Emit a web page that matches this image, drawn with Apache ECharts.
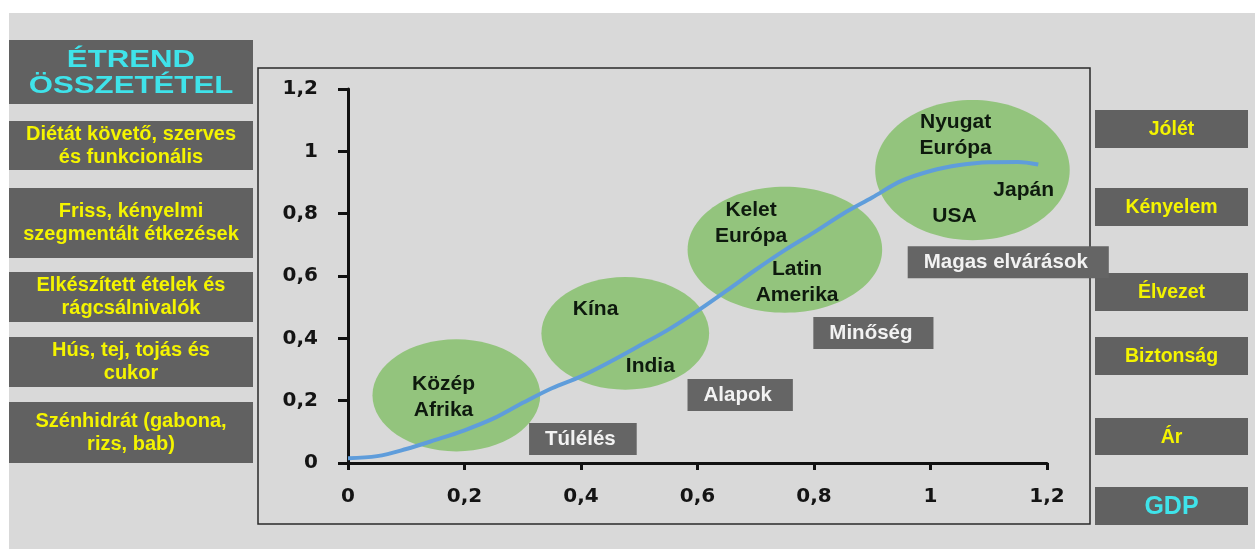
<!DOCTYPE html>
<html>
<head>
<meta charset="utf-8">
<title>Étrend összetétel és GDP</title>
<script src="https://cdn.jsdelivr.net/npm/echarts@6/dist/echarts.min.js"></script>
<style>
  html, body { margin: 0; padding: 0; background: #ffffff; }
  #bg { position: absolute; left: 9px; top: 13px; width: 1246px; height: 536px; background: #d9d9d9; }
  #chart { position: absolute; left: 0; top: 0; width: 1255px; height: 549px; }
</style>
</head>
<body>
<div id="bg"></div>
<div id="chart"></div>
<script>
// GDP (x) against diet development (y) – the S-shaped trend line
const gdp   = [0, 0.05, 0.1, 0.15, 0.2, 0.25, 0.3, 0.35, 0.4, 0.45, 0.5, 0.55, 0.6, 0.65, 0.7, 0.75, 0.8, 0.85, 0.9, 0.95, 1.0, 1.05, 1.1, 1.15, 1.185];
const trend = [0.015, 0.022, 0.045, 0.074, 0.105, 0.143, 0.193, 0.24, 0.278, 0.325, 0.376, 0.428, 0.488, 0.553, 0.62, 0.683, 0.74, 0.8, 0.852, 0.905, 0.937, 0.956, 0.965, 0.966, 0.958];

// Regions (ellipses): centre and half-axes in axis units
const regionX  = [0.186, 0.476, 0.750, 1.072];
const regionY  = [0.217, 0.416, 0.684, 0.940];
const regionRX = [0.144, 0.144, 0.167, 0.167];
const regionRY = [0.180, 0.181, 0.202, 0.225];

// Country / region names and their anchor points in axis units
const countryNames = ['Közép\nAfrika', 'Kína', 'India', 'Kelet\nEurópa', 'Latin\nAmerika', 'Nyugat\nEurópa', 'Japán', 'USA'];
const countryX = [0.164, 0.425, 0.519, 0.692, 0.771, 1.043, 1.160, 1.041];
const countryY = [0.210, 0.492, 0.311, 0.771, 0.579, 1.053, 0.874, 0.792];

// Stage labels (left edge of each tag) in axis units
const stageNames = ['Túlélés', 'Alapok', 'Minőség', 'Magas elvárások'];
const stageX = [0.310, 0.582, 0.798, 0.960];
const stageY = [0.077, 0.218, 0.417, 0.644];

// Side panels
const dietLevels = ['ÉTREND\nÖSSZETÉTEL', 'Diétát követő, szerves\nés funkcionális', 'Friss, kényelmi\nszegmentált étkezések', 'Elkészített ételek és\nrágcsálnivalók', 'Hús, tej, tojás és\ncukor', 'Szénhidrát (gabona,\nrizs, bab)'];
const needLevels = ['Jólét', 'Kényelem', 'Élvezet', 'Biztonság', 'Ár', 'GDP'];

const fmt = v => String(Math.round(v * 10) / 10).replace('.', ',');

const BOX = '#616161';
const YELLOW = '#f4f400';
const CYAN = '#3fe3ea';

// panel geometry: [top, height]
const leftBoxes = [[40, 64], [121, 49], [188, 70], [272, 50], [337, 50], [402, 61]];
const rightBoxes = [[110, 38], [188, 38], [273, 38], [337, 38], [418, 37], [487, 38]];

const graphics = [];
graphics.push({
  type: 'rect', z: 0, silent: true,
  shape: { x: 258, y: 68, width: 832, height: 456 },
  style: { fill: 'none', stroke: '#2a2a2a', lineWidth: 1.5 }
});
leftBoxes.forEach((b, i) => {
  graphics.push({ type: 'rect', silent: true, shape: { x: 9, y: b[0], width: 244, height: b[1] }, style: { fill: BOX } });
  const title = i === 0;
  graphics.push({
    type: 'text', silent: true, z: 2,
    x: 131, y: b[0] + b[1] / 2 + (title ? 1 : 0),
    scaleX: title ? 1.3 : 1,
    style: {
      text: dietLevels[i], x: 0, y: 0,
      align: 'center', verticalAlign: 'middle',
      font: title ? 'bold 24px "Liberation Sans"' : 'bold 20px "Liberation Sans"',
      lineHeight: title ? 26 : 23,
      fill: title ? CYAN : YELLOW
    }
  });
});
rightBoxes.forEach((b, i) => {
  graphics.push({ type: 'rect', silent: true, shape: { x: 1095, y: b[0], width: 153, height: b[1] }, style: { fill: BOX } });
  const last = i === rightBoxes.length - 1;
  graphics.push({
    type: 'text', silent: true, z: 2,
    style: {
      text: needLevels[i], x: 1171.5, y: b[0] + b[1] / 2 + 1,
      align: 'center', verticalAlign: 'middle',
      font: last ? 'bold 25px "Liberation Sans"' : 'bold 19.5px "Liberation Sans"',
      fill: last ? CYAN : YELLOW
    }
  });
});

const axisCommon = {
  type: 'value', min: 0, max: 1.2, interval: 0.2,
  axisLine: { show: true, lineStyle: { color: '#111', width: 3 } },
  axisTick: { show: true, lineStyle: { color: '#111', width: 3 } },
  splitLine: { show: false },
  axisLabel: {
    formatter: fmt,
    color: '#141414',
    fontFamily: 'DejaVu Sans', fontWeight: 'bold', fontSize: 20
  }
};

const chart = echarts.init(document.getElementById('chart'), null, { renderer: 'canvas' });
chart.setOption({
  backgroundColor: 'transparent',
  animation: false,
  graphic: { elements: graphics },
  grid: { left: 348, right: 208, top: 89, bottom: 86, containLabel: false },
  xAxis: Object.assign({}, axisCommon, {
    axisTick: Object.assign({}, axisCommon.axisTick, { length: 7 }),
    axisLabel: Object.assign({}, axisCommon.axisLabel, { margin: 24 })
  }),
  yAxis: Object.assign({}, axisCommon, {
    axisTick: Object.assign({}, axisCommon.axisTick, { length: 10 }),
    axisLabel: Object.assign({}, axisCommon.axisLabel, { margin: 30 })
  }),
  series: [
    {
      type: 'custom', name: 'régiók', z: 1, clip: false,
      data: regionX.map((x, i) => [x, regionY[i], regionRX[i], regionRY[i]]),
      encode: { x: 0, y: 1 },
      renderItem: (params, api) => {
        const c = api.coord([api.value(0), api.value(1)]);
        const s = api.size([api.value(2), api.value(3)]);
        return { type: 'ellipse', shape: { cx: c[0], cy: c[1], rx: s[0], ry: s[1] }, style: { fill: '#93c47d' } };
      }
    },
    {
      type: 'line', name: 'trend', z: 3,
      data: gdp.map((x, i) => [x, trend[i]]),
      smooth: 0.35, showSymbol: false, symbol: 'none',
      lineStyle: { color: '#5f9ddb', width: 4 }
    },
    {
      type: 'scatter', name: 'országok', z: 4,
      symbolSize: 1, itemStyle: { color: 'transparent', opacity: 1 },
      data: countryX.map((x, i) => [x, countryY[i], countryNames[i]]),
      label: {
        show: true, position: 'inside', formatter: p => p.data[2],
        fontFamily: 'Liberation Sans', fontWeight: 'bold', fontSize: 21,
        lineHeight: 26, color: '#0e1a0e', align: 'center', verticalAlign: 'middle'
      }
    },
    {
      type: 'scatter', name: 'szakaszok', z: 5,
      symbolSize: 1, itemStyle: { color: 'transparent', opacity: 1 },
      data: stageX.map((x, i) => [x, stageY[i], stageNames[i]]),
      label: {
        show: true, position: 'right', distance: 0, formatter: p => p.data[2],
        fontFamily: 'Liberation Sans', fontWeight: 'bold', fontSize: 20.5,
        lineHeight: 21, color: '#f2f2f2', backgroundColor: '#656565',
        padding: [6, 21, 5, 16], align: 'left', verticalAlign: 'middle'
      }
    }
  ]
});
</script>
</body>
</html>
